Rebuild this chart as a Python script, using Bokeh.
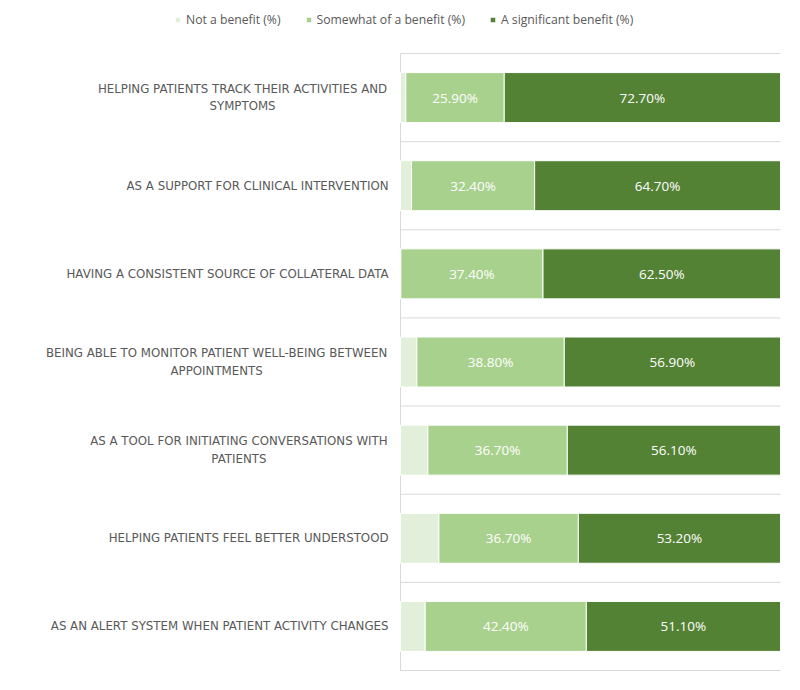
from bokeh.plotting import figure
from bokeh.models import Range1d, ColumnDataSource, Legend, LegendItem
from bokeh.core.properties import value
from bokeh.embed import file_html
from bokeh.resources import INLINE

# ---- data (top to bottom) ----
categories = [
    "HELPING PATIENTS TRACK THEIR ACTIVITIES AND\nSYMPTOMS",
    "AS A SUPPORT FOR CLINICAL INTERVENTION",
    "HAVING A CONSISTENT SOURCE OF COLLATERAL DATA",
    "BEING ABLE TO MONITOR PATIENT WELL-BEING BETWEEN\nAPPOINTMENTS",
    "AS A TOOL FOR INITIATING CONVERSATIONS WITH\nPATIENTS",
    "HELPING PATIENTS FEEL BETTER UNDERSTOOD",
    "AS AN ALERT SYSTEM WHEN PATIENT ACTIVITY CHANGES",
]
not_benefit = [1.4, 2.9, 0.1, 4.3, 7.2, 10.1, 6.5]
somewhat = [25.9, 32.4, 37.4, 38.8, 36.7, 36.7, 42.4]
significant = [72.7, 64.7, 62.5, 56.9, 56.1, 53.2, 51.1]
series_names = ["Not a benefit (%)", "Somewhat of a benefit (%)", "A significant benefit (%)"]
colors = ["#E2EFDA", "#A9D18E", "#548235"]

n = len(categories)
ypos = [n - i - 0.5 for i in range(n)]

source = ColumnDataSource(dict(y=ypos, nb=not_benefit, sw=somewhat, sg=significant))

# layout: full-figure frame; bar area spans px 400..780 horizontally, 53..670 vertically
FIG_W, FIG_H = 792, 682
BX0, BX1, BY0, BY1 = 400, 780, 53, 670
sx = (BX1 - BX0) / 100.0
sy = (BY1 - BY0) / n
x_range = Range1d(-BX0 / sx, (FIG_W - BX0) / sx)
y_range = Range1d(-(FIG_H - BY1) / sy, n + BY0 / sy)

p = figure(
    width=FIG_W, height=FIG_H, x_range=x_range, y_range=y_range,
    output_backend="svg", toolbar_location=None,
    min_border_left=0, min_border_right=0, min_border_top=0, min_border_bottom=0,
)
p.outline_line_color = None
p.background_fill_color = "white"
p.border_fill_color = "white"
p.xaxis.visible = False
p.yaxis.visible = False
p.grid.visible = False

# separators and left axis line
bounds = list(range(n + 1))
p.segment(x0=[0] * len(bounds), x1=[100] * len(bounds), y0=bounds, y1=bounds,
          line_color="#D9D9D9", line_width=1)
p.segment(x0=[0], x1=[0], y0=[0], y1=[n], line_color="#D9D9D9", line_width=1)

renderers = p.hbar_stack(["nb", "sw", "sg"], y="y", height=0.567, color=colors,
                         line_color="white", line_width=1, source=source)

# ---- value labels ----
lab_x, lab_y, lab_t = [], [], []
for i in range(n):
    lab_x.append(not_benefit[i] + somewhat[i] / 2)
    lab_y.append(ypos[i])
    lab_t.append(f"{somewhat[i]:.2f}%")
    lab_x.append(not_benefit[i] + somewhat[i] + significant[i] / 2)
    lab_y.append(ypos[i])
    lab_t.append(f"{significant[i]:.2f}%")
p.text(x=lab_x, y=lab_y, text=lab_t, text_align="center", text_baseline="middle",
       text_color="white", text_font=value("Open Sans"), text_font_size="13.5px")

# ---- category labels ----
W = {"A": .684, "B": .686, "C": .698, "D": .770, "E": .632, "F": .575, "G": .775,
     "H": .752, "I": .295, "K": .656, "L": .557, "M": .863, "N": .748, "O": .787,
     "P": .603, "R": .695, "S": .635, "T": .611, "U": .732, "V": .684, "W": .989,
     "Y": .611, " ": .318, "-": .361}
FS = 11.8
def tw(s):
    return sum(W.get(c, 0.6) for c in s) * FS

single_y, single_t = [], []
multi_y, multi_t, multi_off = [], [], []
for i, c in enumerate(categories):
    if "\n" in c:
        lines = c.split("\n")
        w = max(tw(l) for l in lines)
        multi_y.append(ypos[i]); multi_t.append(c); multi_off.append(-12 - w / 2)
    else:
        single_y.append(ypos[i]); single_t.append(c)

p.text(x=[0] * len(single_y), y=single_y, text=single_t, x_offset=-12,
       text_align="right", text_baseline="middle", text_color="#595959",
       text_font=value("DejaVu Sans"), text_font_size=f"{FS}px")
msrc = ColumnDataSource(dict(x=[0] * len(multi_y), y=multi_y, t=multi_t, off=multi_off))
p.text(x="x", y="y", text="t", x_offset="off", source=msrc,
       text_align="center", text_baseline="middle", text_color="#595959",
       text_font=value("DejaVu Sans"), text_font_size=f"{FS}px", text_line_height=1.25)

# ---- legend ----
legend = Legend(
    items=[LegendItem(label=series_names[k], renderers=[renderers[k]]) for k in range(3)],
    orientation="horizontal", location=(174, FIG_H - 21 - 7),
    glyph_width=7, glyph_height=7, label_height=14, label_standoff=5, spacing=24,
    padding=0, margin=0, border_line_color=None, background_fill_alpha=0,
    label_text_font="Open Sans", label_text_font_size="12.2px",
    label_text_color="#595959",
)
p.add_layout(legend, "center")

open("out.html", "w").write(file_html(p, INLINE))
